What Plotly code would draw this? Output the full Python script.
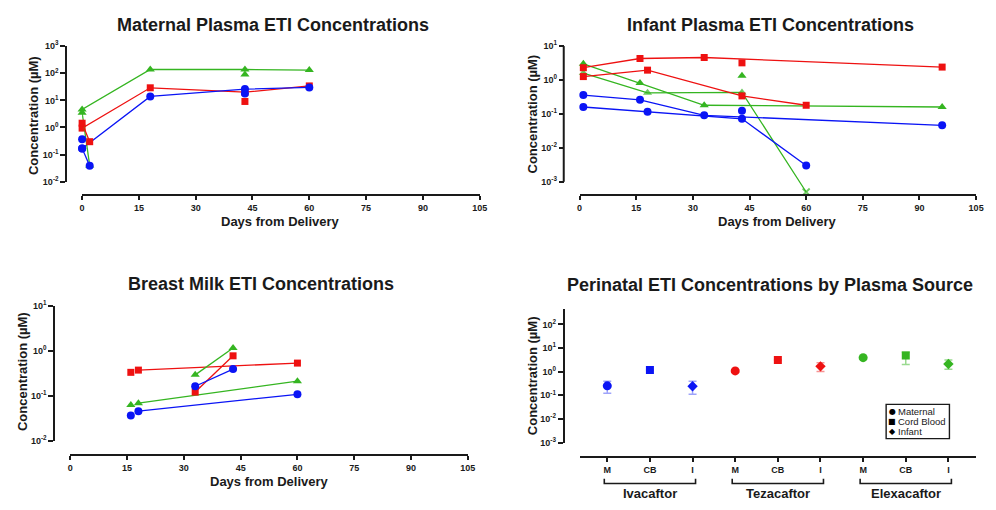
import plotly.graph_objects as go

# ---------------- data ----------------
DAY_TICKS = [0, 15, 30, 45, 60, 75, 90, 105]

# Maternal plasma (µM)
mat_a_days = [0, 18, 43, 60]
mat_a_iva = [0.17, 14, 26, 30]
mat_a_tez = [0.95, 29, 20, 34]
mat_a_elx = [4.6, 137, 137, 130]
mat_b_days = [0, 2]
mat_b_iva = [0.17, 0.039]
mat_b_tez = [1.44, 0.30]
mat_b_elx = [3.5, 0.040]
mat_s_days = [0, 43]
mat_s_iva = [0.37, 18]
mat_s_tez = [None, 9.1]
mat_s_elx = [None, 89]

# Infant plasma (µM)
inf_a_days = [1, 18, 43, 60]
inf_a_iva = [0.16, 0.115, 0.072, 0.003]
inf_a_tez = [1.26, 1.95, 0.34, 0.18]
inf_a_elx = [1.6, 0.42, 0.43, 0.0005]   # last value below quantitation (X)
inf_b_days = [1, 16, 33, 96]
inf_b_iva = [0.36, 0.26, 0.091, 0.046]
inf_b_tez = [2.3, 4.3, 4.6, 2.4]
inf_b_elx = [3.0, 0.81, 0.18, 0.16]
inf_s_days = [43]
inf_s_iva = [0.125]
inf_s_tez = [3.2]
inf_s_elx = [1.34]

# Breast milk (µM)
milk_a_days = [18, 60]
milk_a_iva = [0.045, 0.107]
milk_a_tez = [0.37, 0.53]
milk_a_elx = [0.068, 0.21]
milk_b_days = [33, 43]
milk_b_iva = [0.162, 0.39]
milk_b_tez = [0.12, 0.77]
milk_b_elx = [0.29, 1.15]
milk_s_days = [16]
milk_s_iva = [0.036]
milk_s_tez = [0.33]
milk_s_elx = [0.062]

# Perinatal by plasma source
drugs = ["Ivacaftor", "Tezacaftor", "Elexacaftor"]
sources = ["M", "CB", "I"]
source_names = ["Maternal", "Cord Blood", "Infant"]
peri_mean = {"Ivacaftor": [0.25, 1.17, 0.24],
             "Tezacaftor": [1.07, 3.1, 1.67],
             "Elexacaftor": [3.9, 4.8, 2.1]}
peri_lo = {"Ivacaftor": [0.12, 1.17, 0.11],
           "Tezacaftor": [0.95, 3.1, 1.0],
           "Elexacaftor": [3.9, 2.0, 1.25]}
peri_hi = {"Ivacaftor": [0.39, 1.17, 0.39],
           "Tezacaftor": [1.2, 3.1, 2.35],
           "Elexacaftor": [3.9, 6.7, 3.1]}

# ---------------- style ----------------
W, H = 996, 510
FONT = "Liberation Sans, Arial, Helvetica, sans-serif"
INK = "#1a1a1a"
BLUE = "#0a14f5"
RED = "#ee1111"
GREEN = "#35b521"
ERR = {"Ivacaftor": "rgba(40,50,245,0.45)", "Tezacaftor": "rgba(238,17,17,0.45)",
       "Elexacaftor": "rgba(53,181,33,0.5)"}
DRUG_COLOR = {"Ivacaftor": BLUE, "Tezacaftor": RED, "Elexacaftor": GREEN}
SRC_SYMBOL = ["circle", "square", "diamond"]
SRC_SIZE = [9, 8, 8]


def px(x):
    return x / W


def py(y):
    return 1 - y / H


def exp_text(e):
    return "10<sup>%d</sup>" % e


fig = go.Figure()


def add_line(days, vals, color, symbol, xa, ya, mode="lines+markers", size=8):
    fig.add_trace(go.Scatter(
        x=days, y=vals, mode=mode, xaxis=xa, yaxis=ya, cliponaxis=False,
        connectgaps=False, showlegend=False,
        line=dict(color=color, width=1.3),
        marker=dict(color=color, symbol=symbol, size=size, line=dict(width=0))))


def add_panel(sets, xa, ya):
    for days, iva, tez, elx, mode in sets:
        add_line(days, elx, GREEN, "triangle-up", xa, ya, mode, 8)
        add_line(days, tez, RED, "square", xa, ya, mode, 7)
        add_line(days, iva, BLUE, "circle", xa, ya, mode, 8)


# Panel 1: maternal
add_panel([(mat_a_days, mat_a_iva, mat_a_tez, mat_a_elx, "lines+markers"),
           (mat_b_days, mat_b_iva, mat_b_tez, mat_b_elx, "lines+markers"),
           (mat_s_days, mat_s_iva, mat_s_tez, mat_s_elx, "markers")], "x", "y")

# Panel 2: infant
add_line(inf_b_days, inf_b_elx, GREEN, "triangle-up", "x2", "y2")
fig.add_trace(go.Scatter(
    x=inf_a_days, y=inf_a_elx, mode="lines+markers", xaxis="x2", yaxis="y2",
    cliponaxis=False, showlegend=False, line=dict(color=GREEN, width=1.3),
    marker=dict(color=GREEN, size=[8, 8, 8, 7],
                symbol=["triangle-up"] * (len(inf_a_elx) - 1) + ["x-thin"],
                line=dict(color=GREEN, width=[0] * (len(inf_a_elx) - 1) + [1.8]))))
add_line(inf_s_days, inf_s_elx, GREEN, "triangle-up", "x2", "y2", "markers")
for days, vals, mode in [(inf_b_days, inf_b_tez, "lines+markers"),
                         (inf_a_days, inf_a_tez, "lines+markers"),
                         (inf_s_days, inf_s_tez, "markers")]:
    add_line(days, vals, RED, "square", "x2", "y2", mode, 7)
for days, vals, mode in [(inf_b_days, inf_b_iva, "lines+markers"),
                         (inf_a_days, inf_a_iva, "lines+markers"),
                         (inf_s_days, inf_s_iva, "markers")]:
    add_line(days, vals, BLUE, "circle", "x2", "y2", mode, 8)

# Panel 3: breast milk
add_panel([(milk_a_days, milk_a_iva, milk_a_tez, milk_a_elx, "lines+markers"),
           (milk_b_days, milk_b_iva, milk_b_tez, milk_b_elx, "lines+markers"),
           (milk_s_days, milk_s_iva, milk_s_tez, milk_s_elx, "markers")], "x3", "y3")

# Panel 4: perinatal by source (error bars first, solid markers drawn on top)
cat_pos = []
cat_text = []
for gi, d in enumerate(drugs):
    pos = [gi * len(sources) + si + 1 for si in range(len(sources))]
    cat_pos += pos
    cat_text += sources
    m = peri_mean[d]
    fig.add_trace(go.Scatter(
        x=pos, y=m, mode="markers", xaxis="x4", yaxis="y4", cliponaxis=False,
        showlegend=False, marker=dict(size=1, opacity=0, color=DRUG_COLOR[d]),
        error_y=dict(type="data", symmetric=False,
                     array=[h - v for h, v in zip(peri_hi[d], m)],
                     arrayminus=[v - l for v, l in zip(m, peri_lo[d])],
                     color=ERR[d], thickness=1.5, width=4)))
    fig.add_trace(go.Scatter(
        x=pos, y=m, mode="markers", xaxis="x4", yaxis="y4", cliponaxis=False,
        showlegend=False,
        marker=dict(color=DRUG_COLOR[d], symbol=SRC_SYMBOL, size=SRC_SIZE,
                    opacity=1, line=dict(width=0))))

# ---------------- axes ----------------
TICKFONT = dict(family=FONT, size=9, color=INK, weight="bold")
AX = dict(showgrid=False, zeroline=False, showline=True, linecolor=INK, linewidth=2,
          ticks="outside", ticklen=5, tickwidth=1.5, tickcolor=INK, tickfont=TICKFONT,
          fixedrange=True, ticklabeloverflow="allow")


def xaxis(x0, x1, ypos, rng, tv, tt=None):
    d = dict(AX, domain=[px(x0), px(x1)], anchor="free", position=py(ypos),
             range=rng, tickvals=tv, ticklen=4)
    d["ticktext"] = tt if tt is not None else [str(v) for v in tv]
    return d


def yaxis(xpos, ybot, ytop, emin, emax, top_log=None, bottom_log=None, showline=True):
    lo = emin if bottom_log is None else bottom_log
    hi = emax if top_log is None else top_log
    exps = list(range(emin, emax + 1))
    return dict(AX, type="log", domain=[py(ybot), py(ytop)], anchor="free",
                position=px(xpos), range=[lo, hi], showline=showline,
                tickvals=[10.0 ** e for e in exps], ticktext=[exp_text(e) for e in exps])


# infant panel: plot area extends down to the x axis so the BLQ point's line is not clipped
inf_dec = (179 - 40) / 4.0
inf_bottom = -3 - (193 - 179) / inf_dec

fig.update_layout(
    xaxis=xaxis(80, 482, 193, [0, 105], DAY_TICKS),
    yaxis=yaxis(64, 179, 40, -2, 3),
    xaxis2=xaxis(583, 984, 193, [0, 105], DAY_TICKS),
    yaxis2=yaxis(567, 193, 40, -3, 1, bottom_log=inf_bottom, showline=False),
    xaxis3=xaxis(68, 470, 459, [0, 105], DAY_TICKS),
    yaxis3=yaxis(52, 444, 306, -2, 1),
    xaxis4=xaxis(583, 984, 461, [0.35, 9.65], cat_pos, cat_text),
    yaxis4=yaxis(567, 446, 309, -3, 2, top_log=2 + (325 - 309) / ((446 - 325) / 5.0)),
)

shapes = [dict(type="line", xref="paper", yref="paper", x0=px(567), x1=px(567),
               y0=py(40), y1=py(179), line=dict(color=INK, width=2))]

# group brackets under panel 4
for gi, d in enumerate(drugs):
    c = gi * len(sources) + 2
    x0, x1 = c - 1.07, c + 1.07
    shapes.append(dict(type="path", xref="x4", yref="paper",
                       path="M %f,%f L %f,%f L %f,%f L %f,%f" % (
                           x0, py(483), x0, py(488), x1, py(488), x1, py(483)),
                       line=dict(color=INK, width=1.6)))

# legend box
shapes.append(dict(type="rect", xref="paper", yref="paper", x0=px(893), x1=px(957),
                   y0=py(442), y1=py(407), line=dict(color=INK, width=1.4),
                   fillcolor="white"))

ann = []


def text(x, y, s, size, bold=True, angle=0, xanchor="center", xref="paper"):
    ann.append(dict(x=x, y=y, xref=xref, yref="paper", text=("<b>%s</b>" % s) if bold else s,
                    showarrow=False, textangle=angle, xanchor=xanchor, yanchor="middle",
                    font=dict(family=FONT, size=size, color=INK)))


# titles
text(px(273), py(18), "Maternal Plasma ETI Concentrations", 18)
text(px(776), py(18), "Infant Plasma ETI Concentrations", 18)
text(px(261), py(284), "Breast Milk ETI Concentrations", 18)
text(px(776), py(285), "Perinatal ETI Concentrations by Plasma Source", 18)
# axis titles
text(px(281), py(220), "Days from Delivery", 13)
text(px(783), py(220), "Days from Delivery", 13)
text(px(269), py(486), "Days from Delivery", 13)
text(px(31), py(111), "Concentration (µM)", 13, angle=-90)
text(px(535), py(110), "Concentration (µM)", 13, angle=-90)
text(px(19), py(373), "Concentration (µM)", 13, angle=-90)
text(px(535), py(378), "Concentration (µM)", 13, angle=-90)
# group labels
for gi, d in enumerate(drugs):
    text(gi * len(sources) + 2, py(498), d, 13, xref="x4")
# legend entries
for i, (sym, name) in enumerate(zip(["●", "■", "◆"], source_names)):
    yy = py(414 + i * 10.5)
    ann.append(dict(x=px(899), y=yy, xref="paper", yref="paper", text=sym, showarrow=False,
                    xanchor="center", yanchor="middle",
                    font=dict(family="DejaVu Sans", size=8, color="black")))
    ann.append(dict(x=px(903), y=yy, xref="paper", yref="paper", text=name, showarrow=False,
                    xanchor="left", yanchor="middle",
                    font=dict(family=FONT, size=9.5, color=INK)))

fig.update_layout(
    width=W, height=H, margin=dict(l=0, r=0, t=0, b=0),
    paper_bgcolor="white", plot_bgcolor="white",
    font=dict(family=FONT, color=INK), showlegend=False,
    shapes=shapes, annotations=ann,
)

fig.write_html("out.html", config={"displayModeBar": False},
               post_script="document.body.style.margin='0';document.body.style.overflow='hidden';")
